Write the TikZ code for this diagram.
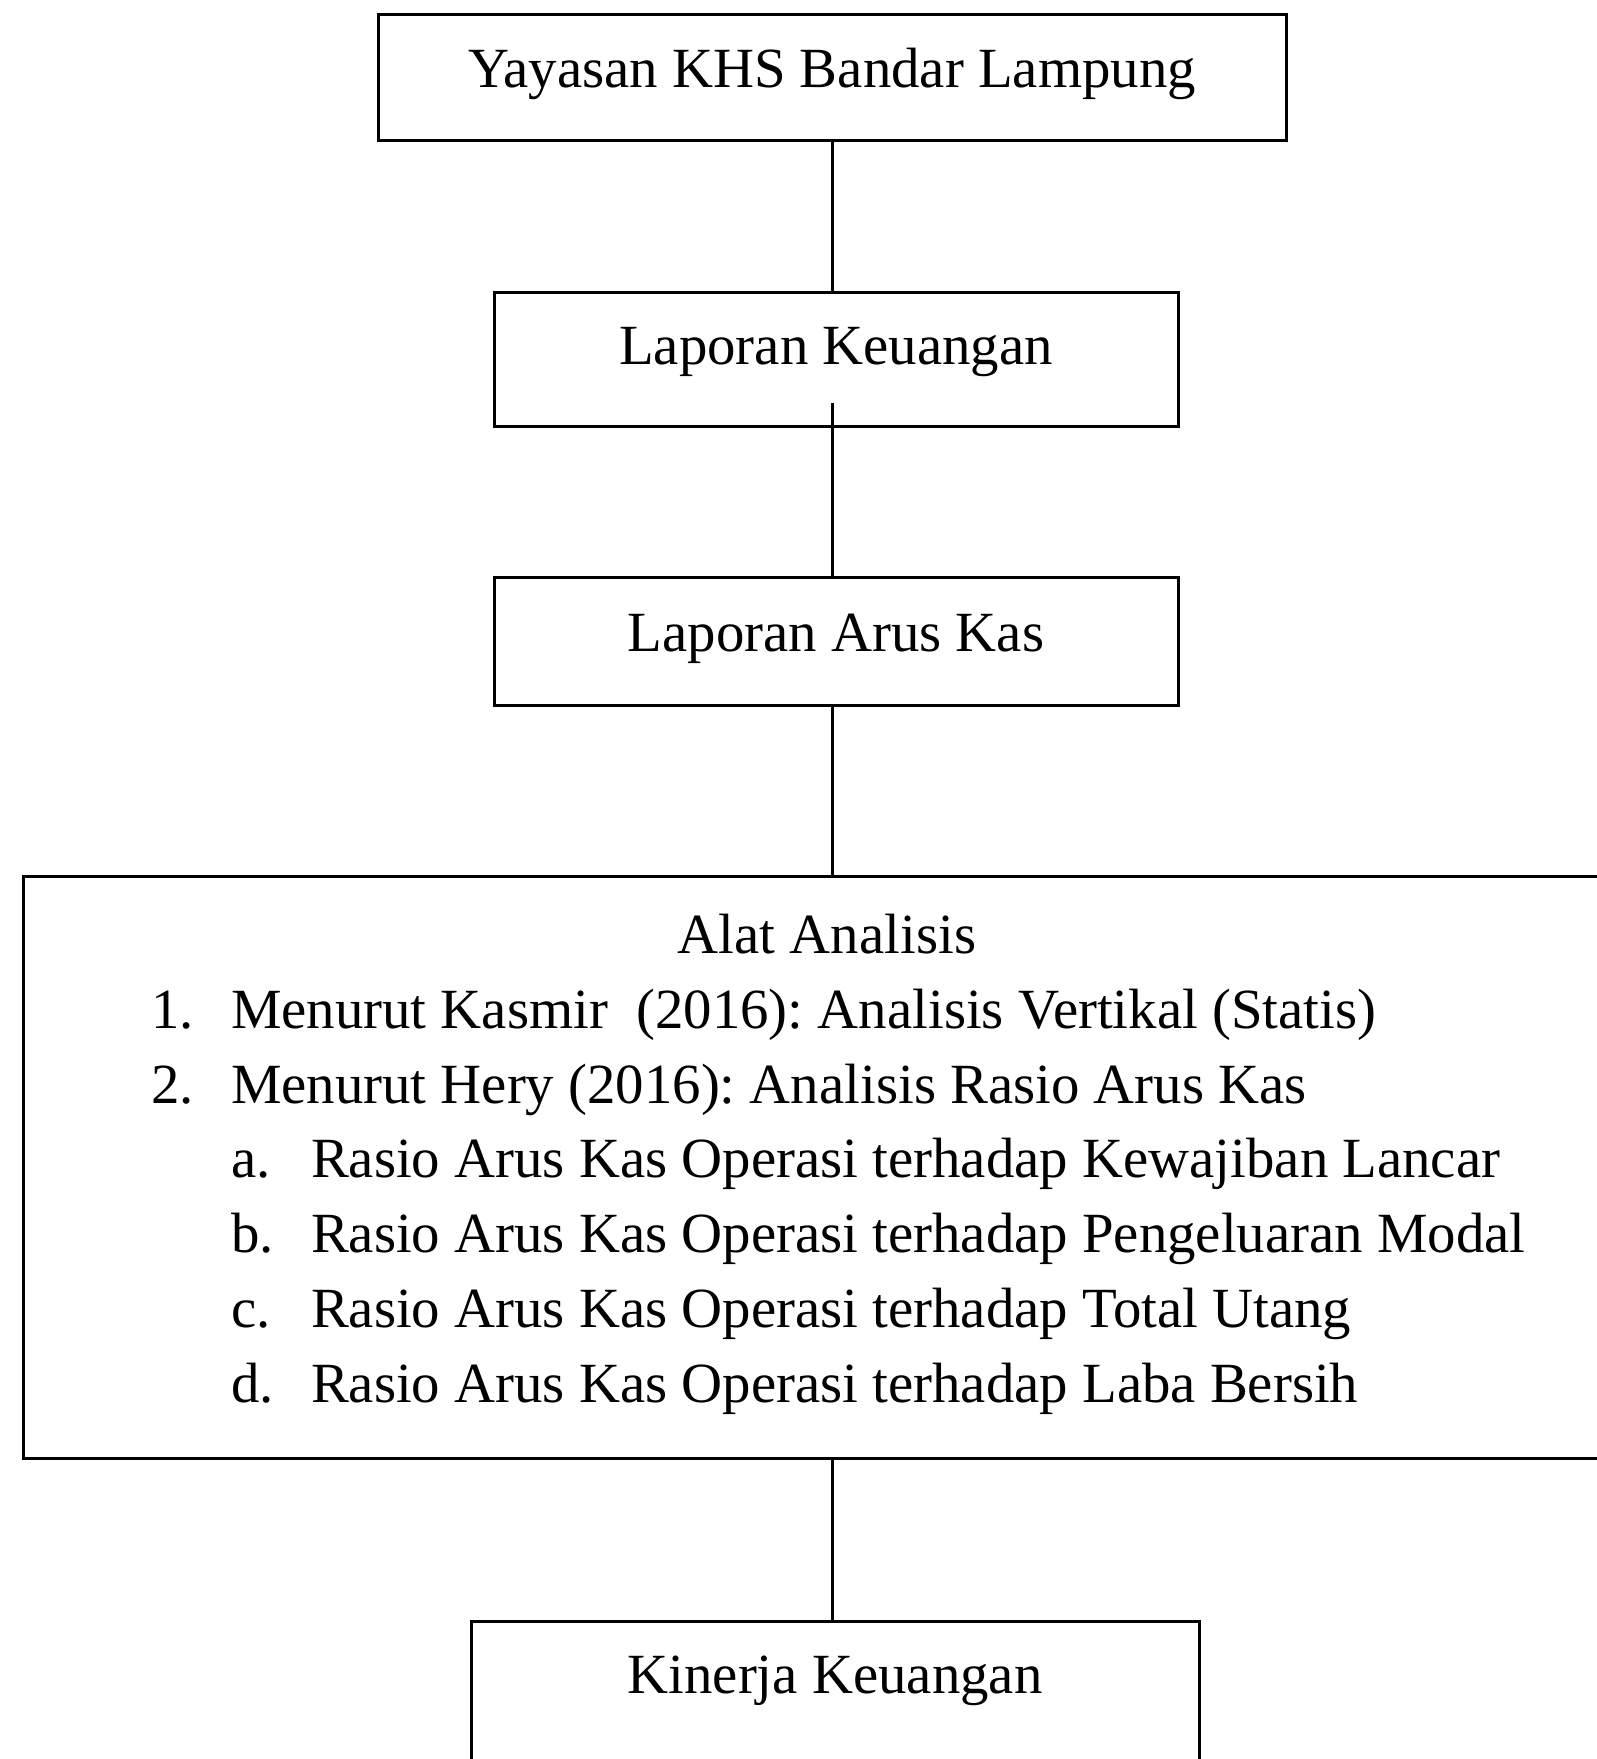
\documentclass[tikz,border=0pt]{standalone}
\usepackage{fontspec}
\setmainfont{Liberation Serif}
\frenchspacing
\begin{document}
\begin{tikzpicture}[x=1pt,y=-1pt,
  box/.style={draw=black, line width=3pt, rectangle, inner sep=0pt, outer sep=0pt, align=center, font=\fontsize{56.8}{68}\selectfont},
  txt/.style={inner sep=0pt, outer sep=0pt, font=\fontsize{56.8}{68}\selectfont},
  conn/.style={draw=black, line width=3pt}]
\path[use as bounding box] (0,0) rectangle (1597,1759);
\clip (0,0) rectangle (1597,1759);
\fill[white] (0,0) rectangle (1597,1759);
% boxes
\node[box, anchor=north, minimum width=908, text height=73, text depth=53] (b1) at (832,14) {Yayasan KHS Bandar Lampung};
\node[box, anchor=north, minimum width=684, text height=72, text depth=62] (b2) at (836,292) {Laporan Keuangan};
\node[box, anchor=north, minimum width=684, text height=74, text depth=54] (b3) at (836,577) {Laporan Arus Kas};
\node[box, anchor=north west, minimum width=1620, minimum height=582] (b4) at (23,876) {};
\node[box, anchor=north, minimum width=728, text height=72, text depth=97] (b5) at (835,1621) {Kinerja Keuangan};
% text in box 4
\node[txt, anchor=base] (t0) at (827,953) {Alat Analisis};
\node[txt, anchor=base west] (n1) at (151,1028) {1.};
\node[txt, anchor=base west] (l1) at (231,1028) {Menurut Kasmir\ \ (2016): Analisis Vertikal (Statis)};
\node[txt, anchor=base west] (n2) at (151,1103) {2.};
\node[txt, anchor=base west] (l2) at (231,1103) {Menurut Hery (2016): Analisis Rasio Arus Kas};
\node[txt, anchor=base west] (na) at (231,1177.6) {a.};
\node[txt, anchor=base west] (la) at (311,1177.6) {Rasio Arus Kas Operasi terhadap Kewajiban Lancar};
\node[txt, anchor=base west] (nb) at (231,1252.5) {b.};
\node[txt, anchor=base west] (lb) at (311,1252.5) {Rasio Arus Kas Operasi terhadap Pengeluaran Modal};
\node[txt, anchor=base west] (nc) at (231,1327.8) {c.};
\node[txt, anchor=base west] (lc) at (311,1327.8) {Rasio Arus Kas Operasi terhadap Total Utang};
\node[txt, anchor=base west] (nd) at (231,1402.8) {d.};
\node[txt, anchor=base west] (ld) at (311,1402.8) {Rasio Arus Kas Operasi terhadap Laba Bersih};
% connectors
\coordinate (k2) at (832,403);
\draw[conn] (b1.south) -- (b1.south |- b2.north);
\draw[conn] (k2) -- (k2 |- b3.north);
\draw[conn] (b3.south -| b1.south) -- (b4.north -| b1.south);
\draw[conn] (b4.south -| b1.south) -- (b5.north -| b1.south);
\end{tikzpicture}
\end{document}
